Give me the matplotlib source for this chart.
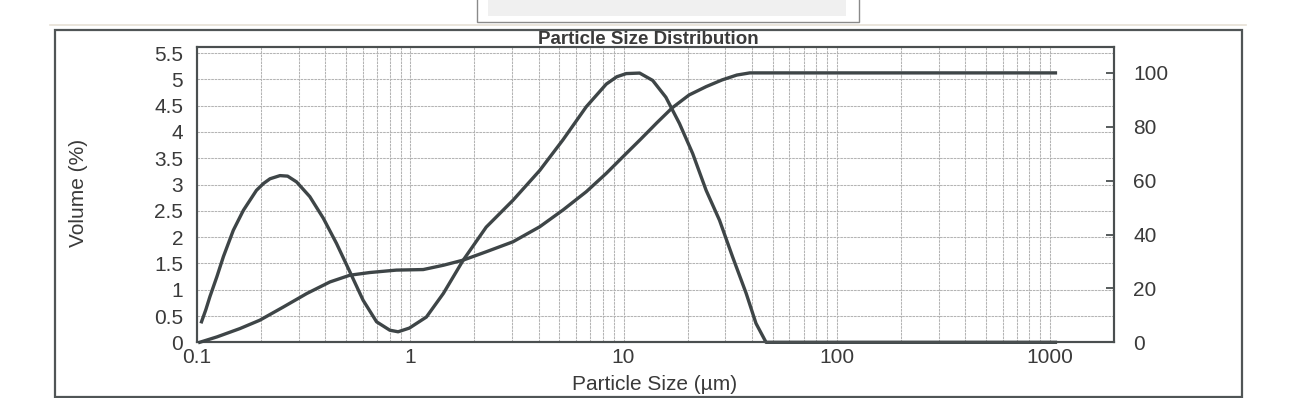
import matplotlib
matplotlib.use("Agg")
import matplotlib.pyplot as plt
from matplotlib.ticker import LogLocator, FixedLocator, NullFormatter, FixedFormatter
from matplotlib.patches import Rectangle
from matplotlib.lines import Line2D

plt.rcParams['font.family'] = ['Liberation Sans', 'DejaVu Sans']

# ---- data ----
dist_size = [0.105, 0.110, 0.115, 0.124, 0.133, 0.148, 0.165, 0.190, 0.205, 0.220,
             0.245, 0.266, 0.293, 0.338, 0.391, 0.451, 0.521, 0.601, 0.695, 0.802,
             0.877, 0.99, 1.19, 1.43, 1.77, 2.27, 3.03, 4.05, 5.20, 6.69,
             8.30, 9.3, 10.3, 11.9, 13.7, 15.8, 18.3, 21.1, 24.4, 28.2,
             32.5, 37.6, 41.8, 46.6, 1060]
dist_vol = [0.39, 0.62, 0.87, 1.25, 1.63, 2.13, 2.51, 2.89, 3.02, 3.11,
            3.17, 3.16, 3.05, 2.77, 2.36, 1.88, 1.34, 0.80, 0.39, 0.23,
            0.20, 0.27, 0.48, 0.93, 1.56, 2.19, 2.70, 3.27, 3.85, 4.48,
            4.91, 5.05, 5.11, 5.12, 4.98, 4.66, 4.16, 3.59, 2.89, 2.32,
            1.62, 0.93, 0.36, 0.0, 0.0]

cum_size = [0.103, 0.124, 0.159, 0.197, 0.254, 0.327, 0.420, 0.521, 0.646, 0.861,
            1.15, 1.43, 1.77, 2.27, 3.03, 4.05, 5.20, 6.69, 8.30, 10.3,
            11.9, 13.2, 14.3, 16.9, 20.3, 24.4, 29.0, 34.0, 39.1, 1060]
cum_pct = [0.0, 2.0, 5.1, 8.2, 13.1, 18.1, 22.4, 24.9, 25.9, 26.8,
           27.0, 28.6, 30.5, 33.6, 37.3, 42.9, 49.1, 55.9, 62.7, 70.1,
           75.0, 78.6, 81.4, 87.0, 91.8, 94.9, 97.4, 99.2, 100.0, 100.0]

x_ticks = [0.1, 1, 10, 100, 1000]
x_labels = ["0.1", "1", "10", "100", "1000"]
yl_ticks = [0, 0.5, 1, 1.5, 2, 2.5, 3, 3.5, 4, 4.5, 5, 5.5]
yl_labels = ["0", "0.5", "1", "1.5", "2", "2.5", "3", "3.5", "4", "4.5", "5", "5.5"]
yr_ticks = [0, 20, 40, 60, 80, 100]
yr_labels = ["0", "20", "40", "60", "80", "100"]

title = "Particle Size Distribution"
xlabel = "Particle Size (µm)"
ylabel = "Volume (%)"

# ---- styling ----
W, H = 1304, 398
line_c = '#3e4547'
txt_c = '#3a3a3a'
grid_c = '#b4b4b4'
spine_c = '#4a4f50'

fig = plt.figure(figsize=(W / 100, H / 100), dpi=100)
fig.patch.set_facecolor('white')

# decorative scan elements: outer frame, faint line, top label box
fig.add_artist(Line2D([50 / W, 1246 / W], [1 - 25 / H, 1 - 25 / H],
                      transform=fig.transFigure, color='#e6e0d6', lw=1.2))
fig.add_artist(Rectangle((477 / W, 1 - 22 / H), (859 - 477) / W, 24 / H,
                         transform=fig.transFigure, facecolor='white',
                         edgecolor='#8a8a8a', lw=1.0))
fig.add_artist(Rectangle((488 / W, 1 - 16 / H), (846 - 488) / W, 18 / H,
                         transform=fig.transFigure, facecolor='#f0f0f0',
                         edgecolor='none'))
fig.add_artist(Rectangle((55 / W, 1 / H), (1242 - 55) / W, (397 - 30) / H,
                         transform=fig.transFigure, facecolor='none',
                         edgecolor='#505556', lw=1.6))

left, right = 197, 1114
top, bottom = 47.3, 342.3
ax = fig.add_axes([left / W, 1 - bottom / H, (right - left) / W, (bottom - top) / H])
ax.set_xscale('log')
ax.set_xlim(0.1, 1995)
ax.set_ylim(0, 5.61)

ax.xaxis.set_major_locator(FixedLocator(x_ticks))
ax.xaxis.set_major_formatter(FixedFormatter(x_labels))
ax.xaxis.set_minor_locator(LogLocator(base=10, subs=[2, 3, 4, 5, 6, 7, 8, 9]))
ax.xaxis.set_minor_formatter(NullFormatter())
ax.yaxis.set_major_locator(FixedLocator(yl_ticks))
ax.yaxis.set_major_formatter(FixedFormatter(yl_labels))

ax.grid(which='both', axis='x', color=grid_c, lw=0.75, ls=(0, (2.5, 0.8)))
ax.grid(which='major', axis='y', color=grid_c, lw=0.75, ls=(0, (2.5, 0.8)))
ax.set_axisbelow(True)

ax.tick_params(axis='x', which='both', length=0, pad=4, labelsize=15, labelcolor=txt_c)
ax.tick_params(axis='y', which='both', length=0, pad=10, labelsize=15, labelcolor=txt_c)

for s in ax.spines.values():
    s.set_color(spine_c)
    s.set_linewidth(1.5)

ax.plot(dist_size, dist_vol, color=line_c, lw=2.4, clip_on=False, zorder=3,
        solid_joinstyle='round')

ax2 = ax.twinx()
ax2.set_ylim(0, 109.5)
ax2.yaxis.set_major_locator(FixedLocator(yr_ticks))
ax2.yaxis.set_major_formatter(FixedFormatter(yr_labels))
ax2.tick_params(axis='y', direction='in', length=6, width=1.3, color=spine_c,
                pad=14, labelsize=15, labelcolor=txt_c)
for s in ax2.spines.values():
    s.set_color(spine_c)
    s.set_linewidth(1.5)
ax2.plot(cum_size, cum_pct, color=line_c, lw=2.4, clip_on=False, zorder=3,
         solid_joinstyle='round')

fig.text(648 / W, 1 - 39 / H, title, ha='center', va='center',
         fontsize=13.5, fontweight='bold', color=txt_c)
fig.text(655 / W, 1 - 384 / H, xlabel, ha='center', va='center',
         fontsize=15, color=txt_c)
fig.text(79 / W, 1 - 193 / H, ylabel, ha='center', va='center',
         fontsize=15, rotation=90, color=txt_c)

fig.savefig('out.png', dpi=100, facecolor='white')
